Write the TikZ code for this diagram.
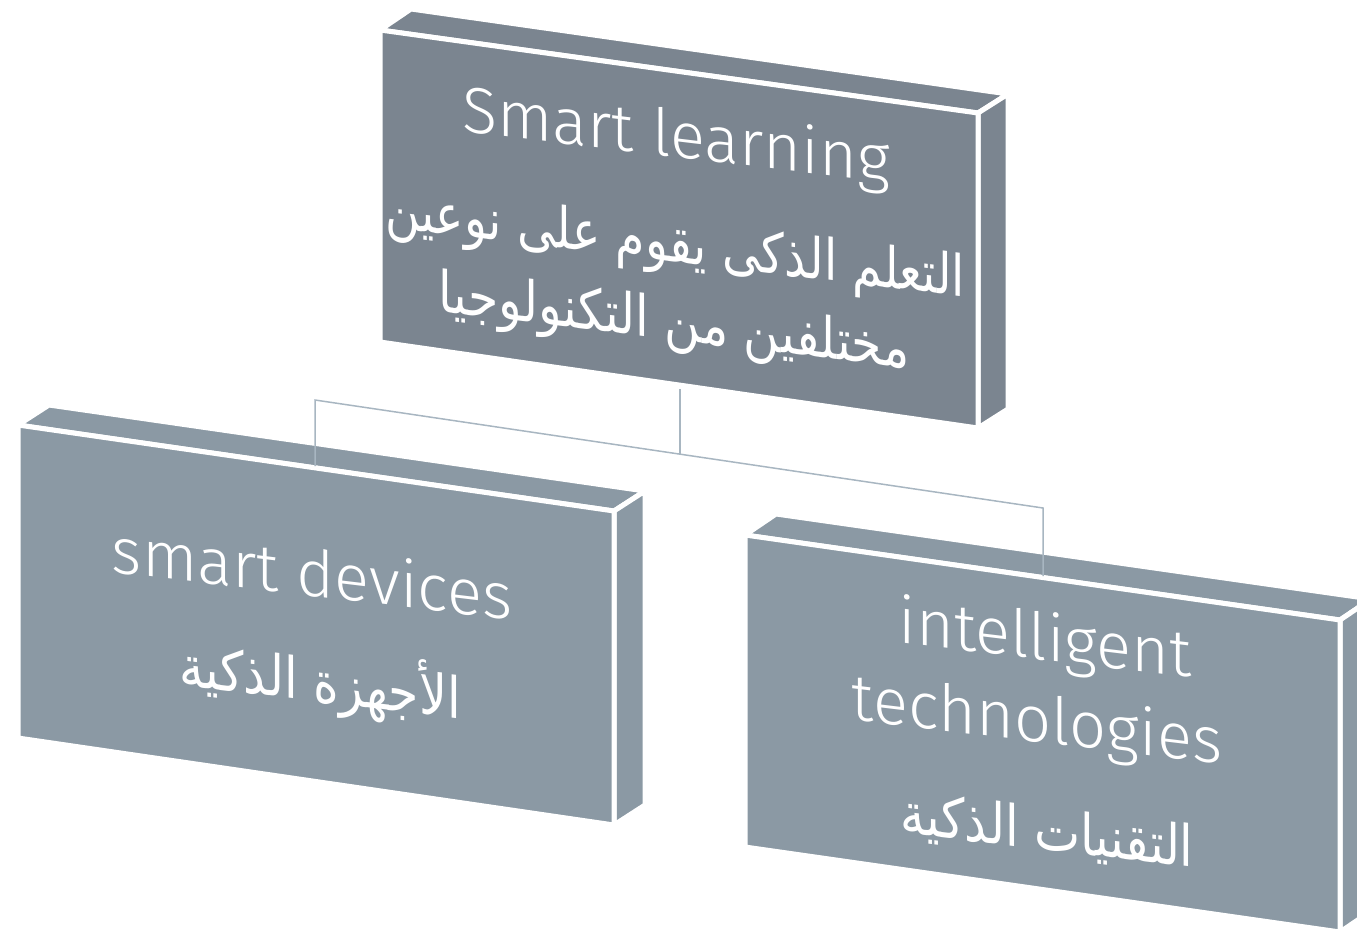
\documentclass[tikz,border=0pt]{standalone}
\usepackage{fontspec}
\setmainfont{Fira Sans Light}
\newfontfamily\arabicfont[Script=Arabic]{DejaVu Sans}
\TeXXeTstate=1
\definecolor{topc}{HTML}{7B8590}
\definecolor{subc}{HTML}{8B99A4}
\definecolor{connc}{HTML}{A8B6C1}
\begin{document}
\begin{tikzpicture}[x=1pt,y=1pt,
  face/.style={draw=white, line width=5pt, line join=round},
  conn/.style={draw=connc, line width=1.5pt},
  lbl/.style={text=white, inner sep=0pt, anchor=base, yslant=-0.12, font=\fontsize{65}{78}\selectfont},
  albl/.style={text=white, inner sep=0pt, anchor=base, yslant=-0.12, xscale=0.86, font=\arabicfont\fontsize{57}{68}\selectfont}]
\useasboundingbox (0,0) rectangle (1357,-938);
% top box
\coordinate (t1) at (380,-30); \coordinate (t2) at (978,-113);
\coordinate (t3) at (978,-428); \coordinate (t4) at (380,-342);
\coordinate (t1b) at (411,-9); \coordinate (t2b) at (1008,-94); \coordinate (t3b) at (1008,-409);
\filldraw[fill=topc,face] (t1) -- (t2) -- (t2b) -- (t1b) -- cycle;
\filldraw[fill=topc,face] (t2) -- (t2b) -- (t3b) -- (t3) -- cycle;
\filldraw[fill=topc,face] (t1) -- (t2) -- (t3) -- (t4) -- cycle;
% left box
\coordinate (l1) at (18,-425); \coordinate (l2) at (614,-511);
\coordinate (l3) at (614,-825); \coordinate (l4) at (18,-738);
\coordinate (l1b) at (49,-405); \coordinate (l2b) at (645,-491); \coordinate (l3b) at (645,-805);
\filldraw[fill=subc,face] (l1) -- (l2) -- (l2b) -- (l1b) -- cycle;
\filldraw[fill=subc,face] (l2) -- (l2b) -- (l3b) -- (l3) -- cycle;
\filldraw[fill=subc,face] (l1) -- (l2) -- (l3) -- (l4) -- cycle;
% right box
\coordinate (r1) at (745,-535); \coordinate (r2) at (1340,-620);
\coordinate (r3) at (1340,-932); \coordinate (r4) at (745,-847);
\coordinate (r1b) at (776,-514); \coordinate (r2b) at (1371,-599); \coordinate (r3b) at (1371,-911);
\filldraw[fill=subc,face] (r1) -- (r2) -- (r2b) -- (r1b) -- cycle;
\filldraw[fill=subc,face] (r2) -- (r2b) -- (r3b) -- (r3) -- cycle;
\filldraw[fill=subc,face] (r1) -- (r2) -- (r3) -- (r4) -- cycle;
% connectors
\coordinate (j0) at (680,-389); \coordinate (jm) at (680,-454);
\coordinate (jl) at (315,-400); \coordinate (jr) at (1043,-508);
\coordinate (el) at (315,-466); \coordinate (er) at (1043,-576);
\draw[conn] (j0) -- (jm);
\draw[conn] (el) -- (jl) -- (jr) -- (er);
% labels
\node[lbl] (tA) at (676,-157) {Smart learning};
\node[albl, xscale=0.97] (tB) at (675,-262) {\beginR التعلم الذكى يقوم على نوعين\endR};
\node[albl] (tC) at (674,-340) {\beginR مختلفين من التكنولوجيا\endR};
\node[lbl] (lA) at (312,-596) {smart devices};
\node[albl] (lB) at (320,-702) {\beginR الأجهزة الذكية\endR};
\node[lbl] (rA) at (1045,-660) {intelligent};
\node[lbl] (rB) at (1037,-742) {technologies};
\node[albl] (rC) at (1047,-850) {\beginR التقنيات الذكية\endR};
\end{tikzpicture}
\end{document}
